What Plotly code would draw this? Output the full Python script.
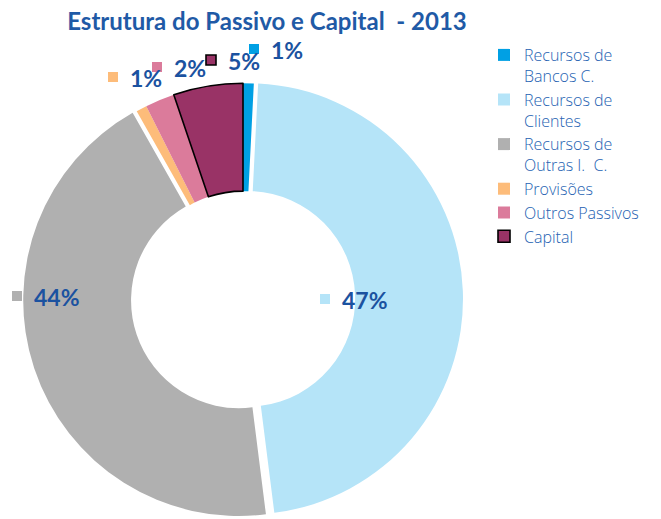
import plotly.graph_objects as go

categories = ["Recursos de<br>Bancos C.", "Recursos de<br>Clientes", "Recursos de<br>Outras I.  C.",
              "Provisões", "Outros Passivos", "Capital"]
values = [0.8, 47.2, 43.8, 0.8, 2.2, 5.2]
colors = ["#00A0E4", "#B5E4F8", "#B0B0B0", "#FDBC7A", "#DB7B9B", "#993366"]
line_colors = ["rgba(0,0,0,0)"] * 5 + ["#000000"]
line_widths = [0, 0, 0, 0, 0, 1.6]
pulls = [0, 0.02, 0.02, 0, 0, 0]

# label layout (pixel centres of the key square)
label_pos = [(254, 49), (325, 299), (17, 296), (113, 77), (157, 67), (211, 60)]

W, H = 661, 519
total = sum(values)
pct = [f"{round(v / total * 100)}%" for v in values]

fig = go.Figure(go.Pie(
    labels=categories, values=values, sort=False, direction="clockwise", rotation=0,
    hole=0.5, pull=pulls, textinfo="none", hoverinfo="label+percent",
    marker=dict(colors=colors, line=dict(color=line_colors, width=line_widths)),
    domain=dict(x=[22 / W, 464 / W], y=[0, 1 - 79 / H]),
))

shapes = []
annotations = []
for (px, py), c, lc, lw, t in zip(label_pos, colors, line_colors, line_widths, pct):
    s = 5
    shapes.append(dict(type="rect", xref="paper", yref="paper",
                       x0=(px - s) / W, x1=(px + s) / W, y0=1 - (py + s) / H, y1=1 - (py - s) / H,
                       fillcolor=c, line=dict(color=lc if lw else c, width=lw if lw else 0)))
    annotations.append(dict(text=f"<b>{t}</b>", xref="paper", yref="paper",
                            x=(px + 15) / W, y=1 - (py + 1) / H, xanchor="left", yanchor="middle",
                            showarrow=False, font=dict(family="Lato", size=23, color="#1B52A0")))

fig.update_layout(
    width=W, height=H, margin=dict(l=0, r=0, t=0, b=0),
    paper_bgcolor="white", plot_bgcolor="white",
    title=dict(text="<b>Estrutura do Passivo e Capital  - 2013</b>", x=267 / W, xanchor="center",
               y=1 - 22 / H, yanchor="middle", font=dict(family="Lato", size=24, color="#1F5AA6")),
    legend=dict(x=484 / W, y=1 - 38 / H, xanchor="left", yanchor="top", valign="top",
                bgcolor="rgba(0,0,0,0)", font=dict(family="Open Sans", size=16, color="#2562B2", weight=300),
                traceorder="normal"),
    shapes=shapes, annotations=annotations,
)
fig.write_html("out.html", config={"displayModeBar": False},
               post_script="document.body.style.margin='0';")
